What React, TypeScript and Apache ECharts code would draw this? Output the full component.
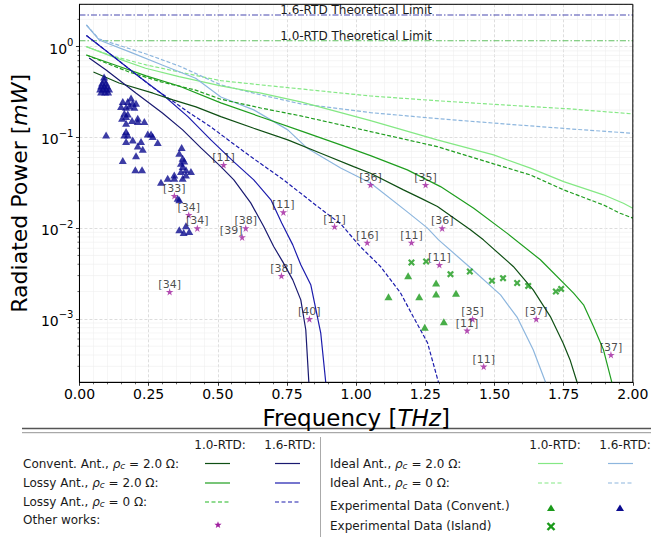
import React, { useEffect, useRef } from "react";
import * as echarts from "echarts";

const FONT = "DejaVu Sans";

// ---- data: [frequency THz, radiated power mW] ----
const IDEAL10_RC0: [number, number][] = [
  [0.025, 1.0], [0.118, 0.79], [0.241, 0.629], [0.36, 0.526], [0.511, 0.422], [0.656, 0.379],
  [0.8, 0.342], [1.052, 0.286], [1.305, 0.252], [1.532, 0.228], [1.774, 0.206], [2.0, 0.1815],
];
const IDEAL16_RC0: [number, number][] = [
  [0.025, 1.733], [0.071, 1.216], [0.15, 1.018], [0.241, 0.831], [0.36, 0.613], [0.439, 0.476],
  [0.511, 0.379], [0.583, 0.334], [0.656, 0.294], [0.8, 0.234], [1.052, 0.1875], [1.305, 0.16],
  [1.533, 0.141], [1.774, 0.124], [2.0, 0.111],
];
const IDEAL10_RC2: [number, number][] = [
  [0.025, 1.0], [0.119, 0.776], [0.239, 0.578], [0.36, 0.467], [0.511, 0.369], [0.656, 0.307],
  [0.8, 0.246], [1.052, 0.153], [1.293, 0.0938], [1.497, 0.0641], [1.63, 0.0458], [1.75, 0.0326],
  [1.894, 0.0233], [1.966, 0.0188], [2.0, 0.0166],
];
const IDEAL16_RC2: [number, number][] = [
  [0.025, 1.733], [0.071, 1.185], [0.179, 0.881], [0.299, 0.629], [0.42, 0.449], [0.511, 0.279],
  [0.63, 0.201], [0.753, 0.121], [0.822, 0.0766], [0.944, 0.0461], [1.052, 0.0315], [1.185, 0.0151],
  [1.257, 0.01007], [1.298, 0.00743], [1.413, 0.00366], [1.522, 0.00184], [1.583, 0.00103],
  [1.64, 0.000456], [1.684, 0.000203], [1.702, 0.0000776],
];
const LOSSY10_RC0: [number, number][] = [
  [0.025, 0.81], [0.114, 0.629], [0.179, 0.526], [0.295, 0.409], [0.417, 0.334], [0.511, 0.2634],
  [0.655, 0.211], [0.8, 0.1725], [1.052, 0.116], [1.293, 0.0792], [1.497, 0.0511], [1.63, 0.0386],
  [1.75, 0.0264], [1.894, 0.018], [1.954, 0.0146], [2.0, 0.0129],
];
const LOSSY16_RC0: [number, number][] = [
  [0.025, 1.33], [0.118, 0.8], [0.212, 0.476], [0.277, 0.334], [0.331, 0.259], [0.403, 0.1815],
  [0.475, 0.1305], [0.547, 0.0892], [0.619, 0.0615], [0.738, 0.034], [0.861, 0.0173], [0.944, 0.01115],
  [1.016, 0.00622], [1.088, 0.00378], [1.16, 0.00194], [1.207, 0.00105], [1.258, 0.000546],
  [1.297, 0.000203], [1.323, 0.000077],
];
const LOSSY10_RC2: [number, number][] = [
  [0.025, 0.81], [0.118, 0.645], [0.241, 0.476], [0.36, 0.369], [0.511, 0.24], [0.656, 0.168],
  [0.8, 0.118], [0.944, 0.0827], [1.052, 0.063], [1.185, 0.0439], [1.305, 0.0287], [1.425, 0.0166],
  [1.545, 0.00881], [1.666, 0.00448], [1.786, 0.00192], [1.822, 0.00143], [1.858, 0.000824],
  [1.894, 0.000456], [1.924, 0.000201], [1.954, 0.000077],
];
const LOSSY16_RC2: [number, number][] = [
  [0.025, 1.33], [0.118, 0.8], [0.212, 0.476], [0.295, 0.307], [0.392, 0.1695], [0.475, 0.0939],
  [0.558, 0.0537], [0.63, 0.034], [0.692, 0.0205], [0.731, 0.01142], [0.771, 0.00654], [0.8, 0.00394],
  [0.836, 0.00238], [0.872, 0.000703], [0.89, 0.000203], [0.901, 0.000077],
];
const CONV10: [number, number][] = [
  [0.0505, 0.526], [0.143, 0.398], [0.266, 0.307], [0.338, 0.259], [0.421, 0.217], [0.511, 0.1695],
  [0.63, 0.126], [0.753, 0.0939], [0.872, 0.067], [0.991, 0.0477], [1.052, 0.0403], [1.171, 0.0264],
  [1.233, 0.0214], [1.294, 0.0173], [1.413, 0.00958], [1.46, 0.00743], [1.568, 0.00378], [1.64, 0.00209],
  [1.702, 0.00106], [1.748, 0.000541], [1.773, 0.000355], [1.798, 0.000203], [1.816, 0.0001],
];
const CONV16: [number, number][] = [
  [0.035, 0.751], [0.0963, 0.554], [0.205, 0.307], [0.301, 0.1847], [0.373, 0.121], [0.439, 0.0766],
  [0.511, 0.0477], [0.558, 0.034], [0.619, 0.019], [0.666, 0.01042], [0.702, 0.00627], [0.735, 0.00425],
  [0.771, 0.00269], [0.8, 0.00162], [0.818, 0.000759], [0.829, 0.000203], [0.832, 0.000077],
];

const EXP_CONV10: [number, number][] = [
  [1.188, 0.00298], [1.117, 0.00175], [1.228, 0.00175], [1.289, 0.00248], [1.289, 0.00188],
  [1.361, 0.00192], [1.317, 0.000929], [1.248, 0.000808],
];
const EXP_ISLAND10: [number, number][] = [
  [1.2, 0.00418], [1.253, 0.00429], [1.341, 0.00311], [1.411, 0.00333], [1.491, 0.00263],
  [1.531, 0.00281], [1.582, 0.00248], [1.622, 0.00231], [1.722, 0.002], [1.741, 0.00214],
];
const EXP_CONV16: [number, number][] = [
  [0.0891, 0.4637], [0.0891, 0.4298], [0.0819, 0.3983], [0.0963, 0.3983], [0.0783, 0.3692],
  [0.0891, 0.3692], [0.0999, 0.3692], [0.0747, 0.3421], [0.0855, 0.3421], [0.0963, 0.3421],
  [0.1071, 0.3421], [0.0783, 0.317], [0.0927, 0.317], [0.1035, 0.317],
  [0.1566, 0.2479], [0.1746, 0.2479], [0.1865, 0.2723], [0.1926, 0.238], [0.1804, 0.2223],
  [0.2045, 0.238], [0.1984, 0.2151], [0.1504, 0.2184], [0.1685, 0.2151], [0.1623, 0.1847],
  [0.1746, 0.1815], [0.154, 0.1627], [0.1685, 0.1695], [0.2107, 0.1627], [0.1901, 0.1531],
  [0.2107, 0.1493], [0.2345, 0.1493], [0.1685, 0.1433],
  [0.0963, 0.1066], [0.1685, 0.1159], [0.1623, 0.1066], [0.1746, 0.1066], [0.2468, 0.1093],
  [0.2587, 0.1093], [0.2648, 0.102], [0.1926, 0.0939], [0.1685, 0.0899], [0.2226, 0.0899],
  [0.2828, 0.0877], [0.2107, 0.0806], [0.2287, 0.0741], [0.2045, 0.0626], [0.1566, 0.0555],
  [0.202, 0.0439], [0.2262, 0.0439],
  [0.3694, 0.0772], [0.3608, 0.067], [0.373, 0.059], [0.3788, 0.0551], [0.3669, 0.052],
  [0.373, 0.0477], [0.3849, 0.0439], [0.3669, 0.042], [0.403, 0.042], [0.3849, 0.0386],
  [0.3427, 0.0386], [0.3189, 0.0355], [0.3427, 0.0355], [0.373, 0.0355], [0.2947, 0.0321],
  [0.355, 0.0214], [0.3608, 0.0205],
  [0.3849, 0.0106], [0.3608, 0.00958], [0.3766, 0.00895], [0.3968, 0.00918],
];

const OTHER_WORKS: [number, number, string][] = [
  [0.521, 0.0498, "[11]"], [0.343, 0.0227, "[33]"], [0.395, 0.014, "[34]"], [0.426, 0.01, "[34]"],
  [0.601, 0.01, "[38]"], [0.588, 0.00796, "[39]"], [0.737, 0.015, "[11]"], [0.922, 0.0104, "[11]"],
  [0.73, 0.00298, "[38]"], [0.326, 0.00199, "[34]"], [0.831, 0.001, "[40]"], [1.052, 0.03, "[36]"],
  [1.251, 0.03, "[35]"], [1.04, 0.00694, "[16]"], [1.2, 0.00694, "[11]"], [1.311, 0.01, "[36]"],
  [1.301, 0.00394, "[11]"], [1.421, 0.001, "[35]"], [1.401, 0.000745, "[11]"], [1.651, 0.001, "[37]"],
  [1.461, 0.000299, "[11]"], [1.921, 0.000402, "[37]"],
];

const LIMIT_16 = 2.23;
const LIMIT_10 = 1.16;
const LIMIT_16_LABEL = "1.6-RTD Theoretical Limit";
const LIMIT_10_LABEL = "1.0-RTD Theoretical Limit";

const X_MIN = 0;
const X_MAX = 2;
const X_MID = 1;
const X_INTERVAL = 0.25;
const Y_MIN = 2.0e-4;
const Y_MAX = 2.93;
const Y_MINOR = [
  3e-4, 4e-4, 5e-4, 6e-4, 7e-4, 8e-4, 9e-4,
  2e-3, 3e-3, 4e-3, 5e-3, 6e-3, 7e-3, 8e-3, 9e-3,
  2e-2, 3e-2, 4e-2, 5e-2, 6e-2, 7e-2, 8e-2, 9e-2,
  0.2, 0.3, 0.4, 0.5, 0.6, 0.7, 0.8, 0.9, 2,
];

// ---- styles ----
const C_DKGREEN = "#0f4f14";
const C_NAVY = "#191970";
const C_GREEN = "#1f9e1f";
const C_BLUE = "#1c1cad";
const C_LTGREEN = "#84e884";
const C_LTBLUE = "#8db6de";
const C_MK_GREEN = "#1a9a1a";
const C_MK_NAVY = "#0b0b8f";
const C_STAR = "#a0209f";
const C_LIM16 = "#4848b0";
const C_LIM10 = "#62c062";
const TXT = "#1a1a1a";
const DASH = [4, 2];
const DASHDOT = [6, 2, 1.5, 2];

const STAR_PATH =
  "path://M50,0 L61,35 L98,35 L68,57 L79,91 L50,70 L21,91 L32,57 L2,35 L39,35 Z";
const X_PATH =
  "path://M0,22 L22,0 L50,28 L78,0 L100,22 L72,50 L100,78 L78,100 L50,72 L22,100 L0,78 L28,50 Z";

function lineSeries(name: string, data: [number, number][], color: string, dashed: boolean, z = 3) {
  return {
    name,
    type: "line",
    data,
    showSymbol: false,
    symbol: "none",
    clip: true,
    silent: true,
    z,
    itemStyle: { color },
    lineStyle: { color, width: 1.2, type: dashed ? DASH : "solid" },
  };
}

function limitSeries(name: string, value: number, color: string) {
  return {
    name,
    type: "line",
    silent: true,
    clip: true,
    z: 2,
    symbol: "none",
    showSymbol: true,
    itemStyle: { color },
    lineStyle: { color, width: 1.1, type: DASHDOT },
    data: [
      [X_MIN, value],
      {
        value: [X_MID, value],
        symbol: "circle",
        symbolSize: 0.1,
        label: {
          show: true,
          position: "top",
          distance: -1,
          formatter: name,
          fontFamily: FONT,
          fontSize: 12,
          color: TXT,
        },
      },
      [X_MAX, value],
    ],
  };
}

const RICH_LEG = {
  n: { fontFamily: FONT, fontSize: 12, fill: TXT, color: TXT, lineHeight: 13, verticalAlign: "top" },
  i: { fontFamily: FONT, fontSize: 12, fontStyle: "italic", fill: TXT, color: TXT, lineHeight: 13, verticalAlign: "top" },
  s: { fontFamily: FONT, fontSize: 9, fontStyle: "italic", fill: TXT, color: TXT, lineHeight: 9, padding: [5, 0, 0, 0], verticalAlign: "bottom" },
};

function legText(x: number, y: number, text: string, align = "left") {
  return {
    type: "text",
    x,
    y,
    silent: true,
    style: {
      text,
      rich: RICH_LEG,
      fontFamily: FONT,
      fontSize: 12,
      fill: TXT,
      textAlign: align,
      textVerticalAlign: "middle",
      align,
      verticalAlign: "middle",
    },
  };
}

function legLine(x1: number, x2: number, y: number, color: string, dashed = false) {
  return {
    type: "line",
    silent: true,
    shape: { x1, y1: y, x2, y2: y },
    style: { stroke: color, lineWidth: 1.2, lineDash: dashed ? [4, 2.5] : null },
  };
}

function legTriangle(cx: number, cy: number, color: string) {
  return {
    type: "polygon",
    silent: true,
    shape: { points: [[cx, cy - 3.5], [cx + 4, cy + 3], [cx - 4, cy + 3]] },
    style: { fill: color },
  };
}

function legStar(cx: number, cy: number, r: number, color: string) {
  const pts: number[][] = [];
  for (let k = 0; k < 10; k++) {
    const a = -Math.PI / 2 + (k * Math.PI) / 5;
    const rr = k % 2 === 0 ? r : r * 0.42;
    pts.push([cx + rr * Math.cos(a), cy + rr * Math.sin(a)]);
  }
  return { type: "polygon", silent: true, shape: { points: pts }, style: { fill: color } };
}

function legX(cx: number, cy: number, color: string) {
  const h = 3.5;
  return {
    type: "group",
    silent: true,
    children: [
      { type: "line", shape: { x1: cx - h, y1: cy - h, x2: cx + h, y2: cy + h }, style: { stroke: color, lineWidth: 2.4 } },
      { type: "line", shape: { x1: cx - h, y1: cy + h, x2: cx + h, y2: cy - h }, style: { stroke: color, lineWidth: 2.4 } },
    ],
  };
}

function buildOption() {
  const yFmt = (v: number) => {
    const e = Math.round(Math.log10(v));
    return `{b|10}{s|${e < 0 ? "\u2212" + -e : e}}`;
  };

  const legendGraphics: any[] = [
    { type: "line", silent: true, shape: { x1: 22, y1: 428.5, x2: 651, y2: 428.5 }, style: { stroke: "#555", lineWidth: 1.3 } },
    { type: "line", silent: true, shape: { x1: 22, y1: 432.7, x2: 651, y2: 432.7 }, style: { stroke: "#888", lineWidth: 0.9 } },
    { type: "line", silent: true, shape: { x1: 320.5, y1: 437, x2: 320.5, y2: 537 }, style: { stroke: "#aaa", lineWidth: 1 } },
    // left column
    legText(220, 445, "{n|1.0-RTD:}", "center"),
    legText(290, 445, "{n|1.6-RTD:}", "center"),
    legText(23, 464, "{n|Convent. Ant., }{i|\u03c1}{s|c}{n| = 2.0 \u03a9:}"),
    legText(23, 483, "{n|Lossy Ant., }{i|\u03c1}{s|c}{n| = 2.0 \u03a9:}"),
    legText(23, 502, "{n|Lossy Ant., }{i|\u03c1}{s|c}{n| = 0 \u03a9:}"),
    legText(23, 520, "{n|Other works:}"),
    legLine(205, 230, 463.5, C_DKGREEN),
    legLine(275, 300, 463.5, C_NAVY),
    legLine(205, 230, 483, C_GREEN),
    legLine(275, 300, 483, C_BLUE),
    legLine(205, 230, 502, "#22b822", true),
    legLine(275, 300, 502, C_BLUE, true),
    legStar(218, 525, 3.8, C_STAR),
    // right column
    legText(555, 445, "{n|1.0-RTD:}", "center"),
    legText(625, 445, "{n|1.6-RTD:}", "center"),
    legText(330, 464, "{n|Ideal Ant., }{i|\u03c1}{s|c}{n| = 2.0 \u03a9:}"),
    legText(330, 483.5, "{n|Ideal Ant., }{i|\u03c1}{s|c}{n| = 0 \u03a9:}"),
    legText(330, 506, "{n|Experimental Data (Convent.)}"),
    legText(330, 526, "{n|Experimental Data (Island)}"),
    legLine(538, 563, 463.5, C_LTGREEN),
    legLine(608, 633, 463.5, C_LTBLUE),
    legLine(538, 563, 483, C_LTGREEN, true),
    legLine(608, 633, 483, C_LTBLUE, true),
    legTriangle(551, 508, C_MK_GREEN),
    legTriangle(620, 508, C_MK_NAVY),
    legX(551, 526.5, C_MK_GREEN),
  ];

  return {
    animation: false,
    backgroundColor: "#fff",
    textStyle: { fontFamily: FONT },
    grid: {
      left: 78.3,
      right: 36.2,
      top: 4.3,
      bottom: 157.7,
      show: true,
      borderColor: "#000",
      borderWidth: 1,
      backgroundColor: "transparent",
      z: 5,
    },
    xAxis: {
      type: "value",
      min: X_MIN,
      max: X_MAX,
      interval: X_INTERVAL,
      axisLine: { show: true, onZero: false, lineStyle: { color: "#000", width: 1 } },
      axisTick: { show: true, inside: false, length: 3.5, lineStyle: { color: "#000", width: 0.8 } },
      minorTick: { show: true, splitNumber: 5, length: 2, lineStyle: { color: "#000", width: 0.6 } },
      axisLabel: {
        formatter: (v: number) => v.toFixed(2),
        fontSize: 14,
        fontFamily: FONT,
        color: "#000",
        margin: 5,
      },
      splitLine: { show: true, lineStyle: { color: "#d4d4d4", width: 0.8, type: [3, 2] } },
      minorSplitLine: { show: true, lineStyle: { color: "#f0f0f0", width: 0.6 } },
      name: "{n|Frequency [}{i|THz}{n|]}",
      nameLocation: "middle",
      nameGap: 15,
      nameTextStyle: {
        rich: {
          n: { fontFamily: FONT, fontSize: 23, color: "#000" },
          i: { fontFamily: FONT, fontSize: 23, fontStyle: "italic", color: "#000" },
        },
      },
    },
    yAxis: {
      type: "log",
      logBase: 10,
      min: Y_MIN,
      max: Y_MAX,
      axisLine: { show: true, lineStyle: { color: "#000", width: 1 } },
      axisTick: { show: true, inside: false, length: 3.5, lineStyle: { color: "#000", width: 0.8 } },
      axisLabel: {
        formatter: yFmt,
        showMinLabel: false,
        showMaxLabel: false,
        margin: 6,
        rich: {
          b: { fontFamily: FONT, fontSize: 14, color: "#000", lineHeight: 18, verticalAlign: "bottom" },
          s: { fontFamily: FONT, fontSize: 10, color: "#000", lineHeight: 10, verticalAlign: "top" },
        },
      },
      splitLine: { show: true, lineStyle: { color: "#d4d4d4", width: 0.8, type: [3, 2] } },
      name: "{n|Radiated Power [}{i|mW}{n|]}",
      nameLocation: "middle",
      nameGap: 35,
      nameTextStyle: {
        rich: {
          n: { fontFamily: FONT, fontSize: 22, color: "#000" },
          i: { fontFamily: FONT, fontSize: 22, fontStyle: "italic", color: "#000" },
        },
      },
    },
    graphic: legendGraphics,
    series: [
      {
        type: "custom",
        silent: true,
        clip: false,
        z: 1,
        data: Y_MINOR.map((v) => [X_MIN, v]),
        encode: { x: 0, y: 1 },
        renderItem: (params: any, api: any) => {
          const p = api.coord([X_MIN, api.value(1)]);
          const cs = params.coordSys;
          return {
            type: "group",
            children: [
              { type: "line", shape: { x1: cs.x, y1: p[1], x2: cs.x + cs.width, y2: p[1] }, style: { stroke: "#eeeeee", lineWidth: 0.6 } },
              { type: "line", shape: { x1: cs.x - 2, y1: p[1], x2: cs.x, y2: p[1] }, style: { stroke: "#000", lineWidth: 0.6 } },
            ],
          };
        },
      },
      limitSeries(LIMIT_16_LABEL, LIMIT_16, C_LIM16),
      limitSeries(LIMIT_10_LABEL, LIMIT_10, C_LIM10),
      lineSeries("Ideal 1.0 rc0", IDEAL10_RC0, C_LTGREEN, true),
      lineSeries("Ideal 1.6 rc0", IDEAL16_RC0, C_LTBLUE, true),
      lineSeries("Ideal 1.0 rc2", IDEAL10_RC2, C_LTGREEN, false),
      lineSeries("Ideal 1.6 rc2", IDEAL16_RC2, C_LTBLUE, false),
      lineSeries("Lossy 1.0 rc0", LOSSY10_RC0, C_GREEN, true),
      lineSeries("Lossy 1.6 rc0", LOSSY16_RC0, C_BLUE, true),
      lineSeries("Lossy 1.0 rc2", LOSSY10_RC2, C_GREEN, false),
      lineSeries("Lossy 1.6 rc2", LOSSY16_RC2, C_BLUE, false),
      lineSeries("Convent 1.0", CONV10, C_DKGREEN, false),
      lineSeries("Convent 1.6", CONV16, C_NAVY, false),
      {
        name: "Exp Convent 1.6",
        type: "scatter",
        data: EXP_CONV16,
        symbol: "triangle",
        symbolSize: [8, 7],
        itemStyle: { color: C_MK_NAVY },
        silent: true,
        z: 4,
      },
      {
        name: "Exp Convent 1.0",
        type: "scatter",
        data: EXP_CONV10,
        symbol: "triangle",
        symbolSize: [8, 7],
        itemStyle: { color: C_MK_GREEN },
        silent: true,
        z: 4,
      },
      {
        name: "Exp Island 1.0",
        type: "scatter",
        data: EXP_ISLAND10,
        symbol: X_PATH,
        symbolSize: 7,
        itemStyle: { color: C_MK_GREEN },
        silent: true,
        z: 4,
      },
      {
        name: "Other works",
        type: "scatter",
        data: OTHER_WORKS.map(([f, p, ref]) => ({
          value: [f, p],
          name: ref,
          label: ref === "[39]" ? { offset: [-11, 1] } : undefined,
        })),
        symbol: STAR_PATH,
        symbolSize: 7.5,
        itemStyle: { color: C_STAR },
        silent: true,
        z: 6,
        label: {
          show: true,
          position: "top",
          distance: -2,
          formatter: "{b}",
          fontFamily: FONT,
          fontSize: 11,
          color: TXT,
        },
      },
    ],
  };
}

export default function App() {
  const ref = useRef<HTMLDivElement>(null);
  useEffect(() => {
    if (!ref.current) return;
    const chart = echarts.init(ref.current, undefined, { renderer: "svg" });
    chart.setOption(buildOption() as any);
    return () => chart.dispose();
  }, []);
  return (
    <div
      ref={ref}
      style={{ position: "fixed", left: 0, top: 0, width: 669, height: 540, background: "#fff" }}
    />
  );
}
